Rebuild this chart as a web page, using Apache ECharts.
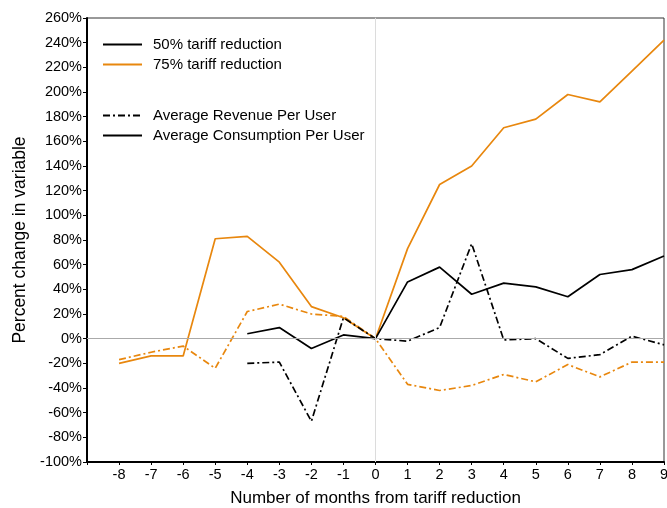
<!DOCTYPE html>
<html>
<head>
<meta charset="utf-8">
<script src="https://cdn.jsdelivr.net/npm/echarts@6/dist/echarts.min.js"></script>
<style>
  html, body { margin: 0; padding: 0; background: #fff; }
  #chart { width: 667px; height: 508px; }
</style>
</head>
<body>
<div id="chart"></div>
<script>
// months relative to the tariff reduction
var months = [-8, -7, -6, -5, -4, -3, -2, -1, 0, 1, 2, 3, 4, 5, 6, 7, 8, 9];
var monthsFrom4 = [-4, -3, -2, -1, 0, 1, 2, 3, 4, 5, 6, 7, 8, 9];

// percent change
var acpu75 = [-20, -14, -14, 81, 83, 62, 26, 17, 0, 73, 125, 140, 171, 178, 198, 192, 217, 242];
var arpu75 = [-17, -11, -6, -24, 22, 28, 20, 18, 0, -37, -42, -38, -29, -35, -21, -31, -19, -19];
var acpu50 = [4, 9, -8, 3, 0, 46, 58, 36, 45, 42, 34, 52, 56, 67];
var arpu50 = [-20, -19, -67, 17, 0, -2, 9, 77, -1, 0, -16, -13, 2, -5];

var yTicks = { min: -100, max: 260, step: 20 };

var ORANGE = "#e8870e";
var DASHDOT = [7, 3, 2, 3];
var FONT = "Liberation Sans";

function pairs(xs, ys) {
  var out = [];
  for (var i = 0; i < xs.length; i++) out.push([xs[i], ys[i]]);
  return out;
}

var chart = echarts.init(document.getElementById("chart"));

function line(name, data, color, type) {
  return {
    name: name,
    type: "line",
    data: data,
    symbol: "none",
    showSymbol: false,
    lineStyle: { color: color, width: 1.7, type: type },
    itemStyle: { color: color },
    z: 3
  };
}

var series = [
  line("acpu75", pairs(months, acpu75), ORANGE, "solid"),
  line("arpu75", pairs(months, arpu75), ORANGE, DASHDOT),
  line("acpu50", pairs(monthsFrom4, acpu50), "#000", "solid"),
  line("arpu50", pairs(monthsFrom4, arpu50), "#000", DASHDOT),
  // legend-only entries
  line("50% tariff reduction", [], "#000", "solid"),
  line("75% tariff reduction", [], ORANGE, "solid"),
  line("Average Revenue Per User", [], "#000", DASHDOT),
  line("Average Consumption Per User", [], "#000", "solid")
];

// zero reference lines
series[0].markLine = {
  silent: true,
  symbol: "none",
  label: { show: false },
  animation: false,
  data: [
    { xAxis: 0, lineStyle: { color: "#dcdcdc", width: 1, type: "solid" } },
    { yAxis: 0, lineStyle: { color: "#aaaaaa", width: 1, type: "solid" } }
  ]
};

var legendBase = {
  orient: "vertical",
  left: 97,
  itemWidth: 39,
  itemHeight: 14,
  itemGap: 5,
  selectedMode: false,
  itemStyle: { opacity: 0 },
  textStyle: { fontFamily: FONT, fontSize: 15, lineHeight: 14, color: "#000", padding: [0, 0, 0, 6] }
};

chart.setOption({
  animation: false,
  grid: {
    left: 87, right: 3, top: 18, bottom: 46,
    outerBoundsMode: "none",
    containLabel: false,
    show: true, borderColor: "#333", borderWidth: 1
  },
  legend: [
    Object.assign({}, legendBase, { top: 32, data: ["50% tariff reduction", "75% tariff reduction"] }),
    Object.assign({}, legendBase, { top: 103, data: ["Average Revenue Per User", "Average Consumption Per User"] })
  ],
  xAxis: {
    type: "value",
    min: -9,
    max: 9,
    interval: 1,
    name: "Number of months from tariff reduction",
    nameLocation: "middle",
    nameGap: 28,
    nameTextStyle: { fontFamily: FONT, fontSize: 17, color: "#000" },
    axisLine: { onZero: false, lineStyle: { color: "#000", width: 2 } },
    axisTick: { show: true, length: 3, lineStyle: { color: "#000" } },
    axisLabel: {
      fontFamily: FONT, fontSize: 14.5, color: "#000", margin: 5,
      formatter: function (v) { return v === -9 ? "" : String(v); }
    },
    splitLine: { show: false }
  },
  yAxis: {
    type: "value",
    min: yTicks.min,
    max: yTicks.max,
    interval: yTicks.step,
    name: "Percent change in variable",
    nameLocation: "middle",
    nameGap: 58,
    nameTextStyle: { fontFamily: FONT, fontSize: 17.5, color: "#000" },
    axisLine: { show: true, onZero: false, lineStyle: { color: "#000", width: 2 } },
    axisTick: { show: true, length: 4, lineStyle: { color: "#000" } },
    axisLabel: {
      fontFamily: FONT, fontSize: 14.5, color: "#000", margin: 5,
      formatter: function (v) { return v + "%"; }
    },
    splitLine: { show: false }
  },
  series: series
});
</script>
</body>
</html>
